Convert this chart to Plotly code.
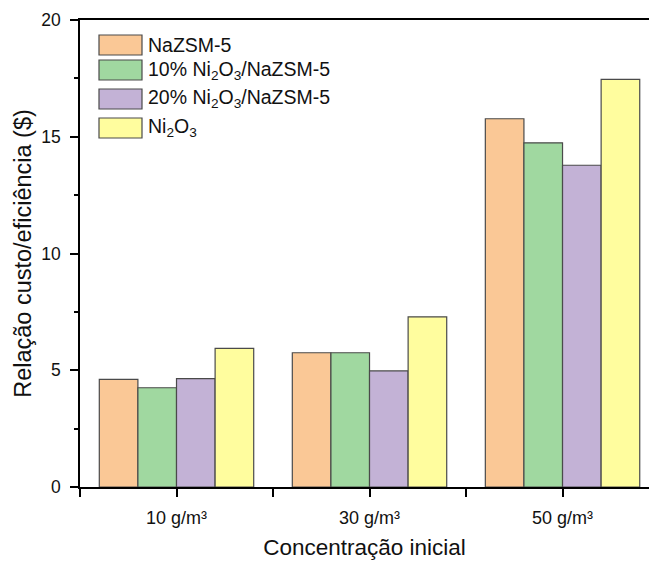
import plotly.graph_objects as go

# Initial concentrations (x categories)
categories = ["10 g/m³", "30 g/m³", "50 g/m³"]

# Cost/efficiency ratio for each catalyst
series_names = [
    "NaZSM-5",
    "10% Ni<sub>2</sub>O<sub>3</sub>/NaZSM-5",
    "20% Ni<sub>2</sub>O<sub>3</sub>/NaZSM-5",
    "Ni<sub>2</sub>O<sub>3</sub>",
]
nazsm5 = [4.61, 5.75, 15.77]
ni10_nazsm5 = [4.25, 5.75, 14.74]
ni20_nazsm5 = [4.64, 4.97, 13.78]
ni2o3 = [5.94, 7.29, 17.46]
series_values = [nazsm5, ni10_nazsm5, ni20_nazsm5, ni2o3]

fills = ["#FAC896", "#A0D8A0", "#C3B2D6", "#FFFD9E"]
edge = "#4a4a4a"
font_family = "Liberation Sans, Arial, sans-serif"

positions = list(range(len(categories)))

fig = go.Figure()
for name, vals, col in zip(series_names, series_values, fills):
    fig.add_trace(go.Bar(
        x=positions, y=vals, name=name,
        marker=dict(color=col, line=dict(color=edge, width=1.2)),
        showlegend=False,
    ))

# Legend drawn as swatches + labels in paper coordinates
W, H = 649, 561
ml, mr, mt, mb = 80, 0, 20, 74
pw, ph = W - ml - mr, H - mt - mb

def px_x(x):
    return (x - ml) / pw

def px_y(y):
    return 1 - (y - mt) / ph

legend_rows = [45, 70, 99, 128]
for name, col, yc in zip(series_names, fills, legend_rows):
    fig.add_shape(type="rect", xref="paper", yref="paper",
                  x0=px_x(99), x1=px_x(142), y0=px_y(yc + 10), y1=px_y(yc - 10),
                  fillcolor=col, line=dict(color=edge, width=1.2))
    fig.add_annotation(xref="paper", yref="paper", x=px_x(146), y=px_y(yc),
                       text=name, showarrow=False, xanchor="left", yanchor="middle",
                       font=dict(size=19.5, color="#111", family=font_family))

fig.update_layout(
    width=W, height=H,
    margin=dict(l=ml, r=mr, t=mt, b=mb),
    paper_bgcolor="white", plot_bgcolor="white",
    barmode="group", bargap=0.2, bargroupgap=0,
    font=dict(family=font_family, color="#111"),
)
fig.update_xaxes(
    range=[-0.5, 2.448],
    tickmode="array", tickvals=positions, ticktext=categories,
    ticks="outside", ticklen=8, tickwidth=1.5, tickcolor="black",
    ticklabelstandoff=6,
    minor=dict(tick0=0.5, dtick=1, ticks="outside", ticklen=8, tickwidth=1.5,
               tickcolor="black", showgrid=False),
    showline=True, linecolor="black", linewidth=1.5, mirror=True,
    showgrid=False, zeroline=False,
    tickfont=dict(size=18),
    title=dict(text="Concentração inicial", font=dict(size=22.5), standoff=12),
)
fig.update_yaxes(
    range=[0, 20], dtick=5, tick0=0,
    ticks="outside", ticklen=8, tickwidth=1.5, tickcolor="black",
    ticklabelstandoff=6,
    minor=dict(dtick=2.5, ticks="outside", ticklen=4, tickwidth=1.5, tickcolor="black", showgrid=False),
    showline=True, linecolor="black", linewidth=1.5, mirror=False,
    showgrid=False, zeroline=False,
    tickfont=dict(size=17.5),
    title=dict(text="Relação custo/eficiência ($)", font=dict(size=23.5), standoff=3),
)

fig.write_html("out.html")
